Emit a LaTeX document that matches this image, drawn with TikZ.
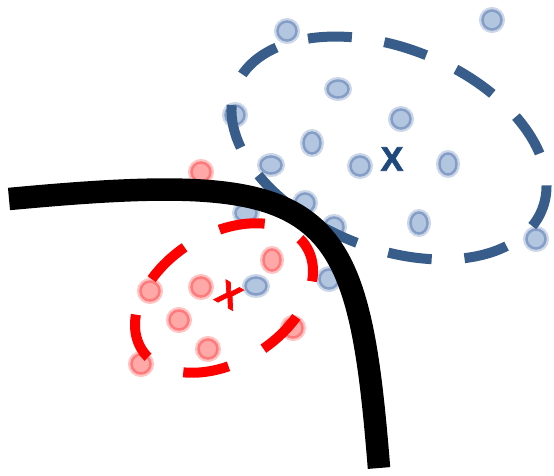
\documentclass[tikz,border=0pt]{standalone}
\usepackage{fontspec}
\setmainfont{Liberation Sans}
\newfontfamily\heavymark{Liberation Sans Bold}[FakeBold=2]
\usetikzlibrary{shapes.geometric}

\definecolor{bfill}{RGB}{178,198,224}
\definecolor{bring}{RGB}{132,158,200}
\definecolor{bhalo}{RGB}{204,215,231}
\definecolor{rfill}{RGB}{255,168,168}
\definecolor{rring}{RGB}{255,122,122}
\definecolor{rhalo}{RGB}{255,196,196}
\definecolor{bdash}{RGB}{56,93,138}
\definecolor{xblue}{RGB}{31,73,125}

\begin{document}
\begin{tikzpicture}[x=1pt,y=-1pt,
  dotbase/.style={ellipse, inner sep=0pt, minimum width=19pt, minimum height=19pt,
    line width=2.5pt},
  bdot/.style={dotbase, fill=bfill, draw=bring, preaction={draw=bhalo, line width=7pt}},
  rdot/.style={dotbase, fill=rfill, draw=rring, preaction={draw=rhalo, line width=7pt}},
  wide/.style={minimum width=21pt, minimum height=17pt},
  tall/.style={minimum width=17pt, minimum height=21pt},
  bluering/.style={draw=bdash, line width=10pt, dash pattern=on 44pt off 32.83pt, dash phase=19pt},
  redring/.style={draw=red, line width=10pt, dash pattern=on 46pt off 39.18pt, dash phase=36pt},
  boundary/.style={draw=black, line width=22.5pt},
  centremark/.style={font=\heavymark\fontsize{34}{34}\selectfont, inner sep=0pt}
]
\useasboundingbox (0,0) rectangle (554,475);

% blue samples
\node[bdot] (b1) at (287,31) {};
\node[bdot] (b2) at (492,20) {};
\node[bdot,wide] (b3) at (338,89) {};
\node[bdot] (b4) at (401,119) {};
\node[bdot] (b5) at (235,115) {};
\node[bdot,tall] (b6) at (312,143) {};
\node[bdot,wide] (b7) at (271,165) {};
\node[bdot] (b8) at (360,166) {};
\node[bdot,tall] (b9) at (448,164) {};
\node[bdot] (b10) at (305,203) {};
\node[bdot,wide] (b11) at (246,213) {};
\node[bdot] (b12) at (334,227) {};
\node[bdot,tall] (b13) at (419,223) {};
\node[bdot] (b14) at (536,239) {};
\node[bdot,wide] (b15) at (256,286) {};
\node[bdot] (b16) at (329,279) {};

% red samples
\node[rdot] (r1) at (201,172) {};
\node[rdot,tall] (r2) at (272,260) {};
\node[rdot] (r3) at (150,291) {};
\node[rdot] (r4) at (201,287) {};
\node[rdot] (r5) at (179,320) {};
\node[rdot] (r6) at (208,349) {};
\node[rdot] (r7) at (141,364) {};
\node[rdot] (r8) at (293,328) {};

% cluster outlines
\coordinate (bc) at (389,148);
\coordinate (rc) at (224,298);
\path[bluering, rotate around={-22:(bc)}] (bc) ellipse [x radius=165pt, y radius=100pt];
\path[redring, rotate around={32:(rc)}] (rc) ellipse [x radius=97pt, y radius=64pt];

% cluster centres
\node[centremark, text=xblue] (bx) at (392,159) {X};
\node[centremark, text=red, rotate=-30] (rx) at (229,295) {X};

% decision boundary
\coordinate (cs) at (9,199);
\coordinate (ce) at (379,468);
\path[boundary] (cs) .. controls (329,169) and (357.4,198) .. (ce);
\end{tikzpicture}
\end{document}
